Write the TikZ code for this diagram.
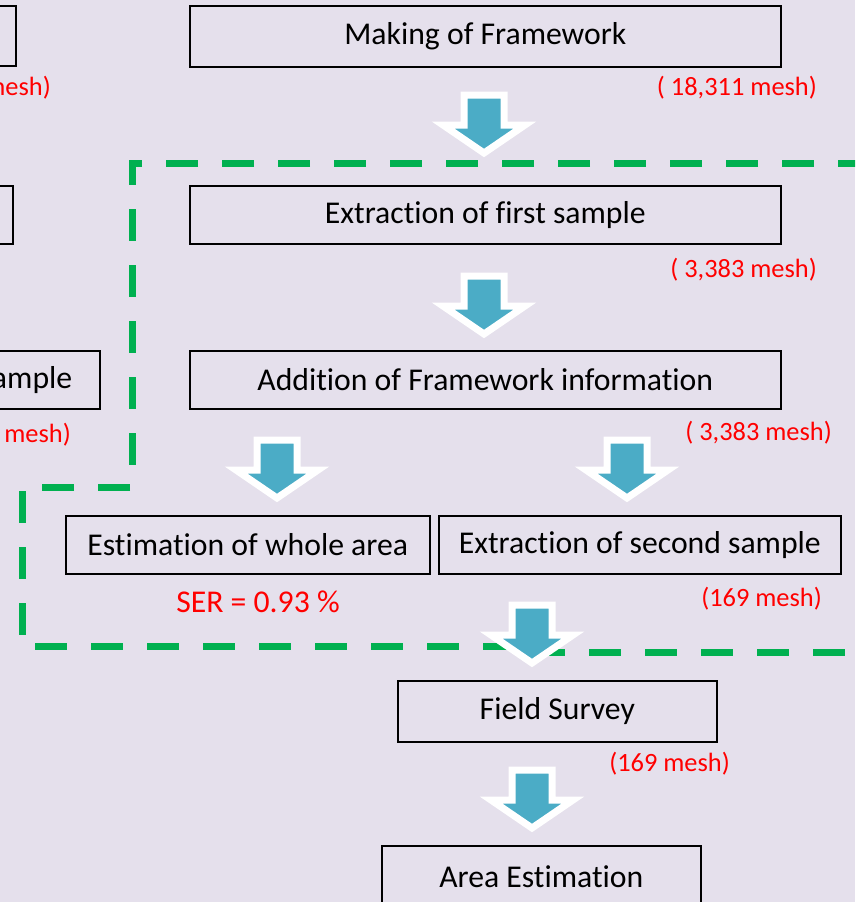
\documentclass[tikz,border=0pt]{standalone}
\usepackage{fontspec}
\setmainfont{Carlito}[Ligatures=NoCommon]
\usetikzlibrary{shadows}
\definecolor{bgpurple}{HTML}{E5E0EC}
\definecolor{arrowblue}{HTML}{4BACC6}
\definecolor{dashgreen}{HTML}{00B050}
\tikzset{>=latex}
\begin{document}
\begin{tikzpicture}[x=1pt, y=-1pt,
box/.style={draw, line width=1.6pt, minimum height=58pt, inner sep=0pt, font=\fontsize{31.7}{34}\selectfont},
mesh/.style={text=red, anchor=east, inner sep=0pt, font=\fontsize{26.4}{30}\selectfont},
zone/.style={dashgreen, line width=7pt, dash pattern=on 32pt off 24pt},
blockarrow/.pic={\path[draw=white, fill=arrowblue, line width=7pt, line join=miter,
drop shadow={opacity=.25, shadow xshift=0pt, shadow yshift=-2pt}]
(-20,4) -- (20,4) -- (20,34) -- (41,34) -- (0,62) -- (-41,34) -- (-20,34) -- cycle;}]
\useasboundingbox (0,0) rectangle (855,902);
\clip (0,0) rectangle (855,902);
\fill[bgpurple] (0,0) rectangle (855,902);
\draw[zone] (870,163) -- (132,163) -- (132,487) -- (22,487) -- (22,646) -- (532,646) -- (532,652) -- (870,652);
\node[box, anchor=north east, minimum width=200pt, minimum height=60pt] (lbox1) at (17,5) {};
\node[box, anchor=north east, minimum width=200pt] (lbox2) at (14,185) {};
\node[box, anchor=north east, text width=170pt, align=right, inner xsep=28pt] (lbox3) at (101,350) {ample};
\node[mesh] (lmesh1) at (51,88) {mesh)};
\node[mesh] (lmesh2) at (71,435) {mesh)};
\node[box, anchor=north west, minimum width=591pt, minimum height=61pt] (making) at (189,5) {Making of Framework};
\node[box, anchor=north west, minimum width=591pt] (first) at (189,185) {Extraction of first sample};
\node[box, anchor=north west, minimum width=591pt] (addinfo) at (189,350) {Addition of Framework information};
\node[box, anchor=north west, minimum width=364pt] (whole) at (65,515) {Estimation of whole area};
\node[box, anchor=north west, minimum width=402pt] (second) at (438,515) {Extraction of second sample};
\node[box, anchor=north west, minimum width=319pt, minimum height=61pt] (field) at (397,680) {Field Survey};
\node[box, anchor=north west, minimum width=319pt, minimum height=61pt] (area) at (381,845) {Area Estimation};
\node[mesh] (m1) at (817,88) {( 18,311 mesh)};
\node[mesh] (m2) at (817,270) {( 3,383 mesh)};
\node[mesh] (m3) at (832,433) {( 3,383 mesh)};
\node[mesh] (m4) at (822,599) {(169 mesh)};
\node[mesh] (m5) at (730,764) {(169 mesh)};
\node[mesh, anchor=center, font=\fontsize{31.7}{34}\selectfont] (ser) at (258,602) {SER = 0.93 \%};
\pic at (484,91) {blockarrow};
\pic at (484,272) {blockarrow};
\pic at (277,436) {blockarrow};
\pic at (627,436) {blockarrow};
\pic at (532,601) {blockarrow};
\pic at (532,766) {blockarrow};
\end{tikzpicture}
\end{document}
